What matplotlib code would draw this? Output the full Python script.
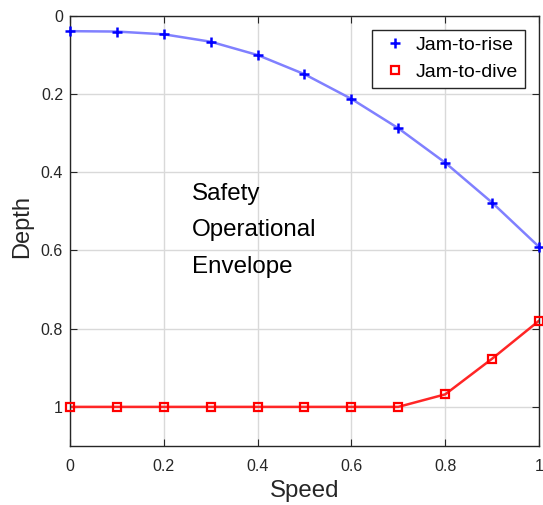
import matplotlib
matplotlib.use("Agg")
import matplotlib.pyplot as plt

plt.rcParams['font.family'] = ['Liberation Sans', 'DejaVu Sans']

speed = [0.0, 0.1, 0.2, 0.3, 0.4, 0.5, 0.6, 0.7, 0.8, 0.9, 1.0]
jam_rise = [0.040, 0.041, 0.048, 0.067, 0.101, 0.150, 0.213, 0.288, 0.376, 0.478, 0.591]
jam_dive = [1.0, 1.0, 1.0, 1.0, 1.0, 1.0, 1.0, 1.0, 0.968, 0.877, 0.780]
xticks = [0, 0.2, 0.4, 0.6, 0.8, 1]
yticks = [0, 0.2, 0.4, 0.6, 0.8, 1]
xticklabels = ['0', '0.2', '0.4', '0.6', '0.8', '1']
yticklabels = ['0', '0.2', '0.4', '0.6', '0.8', '1']

fig = plt.figure(figsize=(5.43, 5.05), dpi=100)
ax = fig.add_axes([0.1289, 0.1168, 0.8637, 0.8525])

ax.plot(speed, jam_rise, color=(0.5, 0.5, 1.0), lw=1.8, zorder=2)
ax.plot(speed, jam_rise, linestyle='none', marker='+', ms=7, mew=1.8, color='blue',
        label='Jam-to-rise', zorder=3, clip_on=False)
ax.plot(speed, jam_dive, color=(1.0, 0.15, 0.15), lw=1.8, zorder=2)
ax.plot(speed, jam_dive, linestyle='none', marker='s', ms=5.5, mew=1.6, mfc='none',
        color='red', label='Jam-to-dive', zorder=3, clip_on=False)

ax.set_xlim(0, 1)
ax.set_ylim(1.1, 0)
ax.set_xticks(xticks)
ax.set_xticklabels(xticklabels)
ax.set_yticks(yticks)
ax.set_yticklabels(yticklabels)
ax.grid(True, color='#d9d9d9', lw=1)
ax.set_axisbelow(True)
ax.tick_params(direction='in', length=5, labelsize=11.5, colors='#262626',
               top=True, right=True)
ax.tick_params(axis='x', pad=9)
ax.tick_params(axis='y', pad=5)
for s in ax.spines.values():
    s.set_color('#262626')
    s.set_linewidth(1)

ax.set_xlabel('Speed', fontsize=17.3, color='#262626', labelpad=5)
ax.set_ylabel('Depth', fontsize=17, color='#262626')
ax.yaxis.set_label_coords(-0.079, 0.511)

ax.text(0.26, 0.428, 'Safety\nOperational\nEnvelope', fontsize=17.4, color='black',
        linespacing=1.85, va='top', ha='left')

leg = ax.legend(loc='upper right', fontsize=14, frameon=True, fancybox=False,
                edgecolor='#262626', framealpha=1, borderaxespad=0.72,
                handlelength=1.65, handletextpad=0.25, borderpad=0.35, labelspacing=0.5)
leg.get_frame().set_linewidth(1)

fig.savefig('out.png', dpi=100)
